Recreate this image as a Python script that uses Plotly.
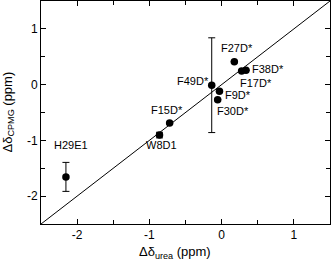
import plotly.graph_objects as go

labels = ["H29E1", "W8D1", "F15D*", "F49D*", "F9D*", "F30D*", "F27D*", "F17D*", "F38D*"]
d_urea = [-2.155, -0.86, -0.72, -0.137, -0.03, -0.055, 0.176, 0.277, 0.337]
d_cpmg = [-1.655, -0.905, -0.69, -0.01, -0.12, -0.27, 0.41, 0.245, 0.26]
err_cpmg = [0.26, 0.05, 0.0, 0.85, 0.0, 0.0, 0.0, 0.0, 0.0]

axis_range = [-2.5, 1.5]
tick_vals = [-2, -1, 0, 1]
tick_text = ["-2", "-1", "0", "1"]

# label offsets in pixels (dx right, dy up)
label_shift = [(5, 32), (2, -10), (-3, 13), (-19, 4), (19, -4), (15, -11), (3, 14), (14, -12), (22, 1)]

fig = go.Figure()
fig.add_trace(go.Scatter(x=axis_range, y=axis_range, mode="lines",
                         line=dict(color="black", width=1), showlegend=False, hoverinfo="skip"))
fig.add_trace(go.Scatter(x=d_urea, y=d_cpmg, mode="markers",
                         marker=dict(color="black", size=7.5),
                         error_y=dict(type="data", array=err_cpmg, visible=True,
                                      color="black", thickness=1, width=3.5),
                         showlegend=False))

font = "Liberation Sans, Arial, sans-serif"
for lab, x, y, (dx, dy) in zip(labels, d_urea, d_cpmg, label_shift):
    fig.add_annotation(x=x, y=y, text=lab, showarrow=False, xshift=dx, yshift=dy,
                       font=dict(size=11, color="black", family=font))

fig.add_annotation(xref="paper", yref="paper", x=0.465, y=0, yshift=-28,
                   text="Δδ<sub>urea</sub> (ppm)", showarrow=False,
                   xanchor="center", yanchor="middle",
                   font=dict(size=13, color="black", family=font))
fig.add_annotation(xref="paper", yref="paper", x=0, y=0.5, xshift=-33,
                   text="Δδ<sub>CPMG</sub> (ppm)", showarrow=False, textangle=-90,
                   xanchor="center", yanchor="middle",
                   font=dict(size=13, color="black", family=font))

axis_common = dict(range=axis_range, tickvals=tick_vals, ticktext=tick_text,
                   ticks="inside", ticklen=5, tickcolor="black", tickwidth=1,
                   showline=True, linecolor="black", linewidth=1, mirror="allticks",
                   showgrid=False, zeroline=False,
                   minor=dict(ticks="inside", dtick=0.5, tick0=0, ticklen=4,
                              tickcolor="black", tickwidth=1, showgrid=False),
                   tickfont=dict(size=12, color="black", family=font))

fig.update_xaxes(**axis_common)
fig.update_yaxes(**axis_common)

fig.update_layout(width=331, height=261,
                  margin=dict(l=41, r=1, t=1, b=37),
                  plot_bgcolor="white", paper_bgcolor="white")

fig.write_html("out.html", config={"displayModeBar": False},
               post_script="document.body.style.margin='0';document.body.style.overflow='hidden';")
